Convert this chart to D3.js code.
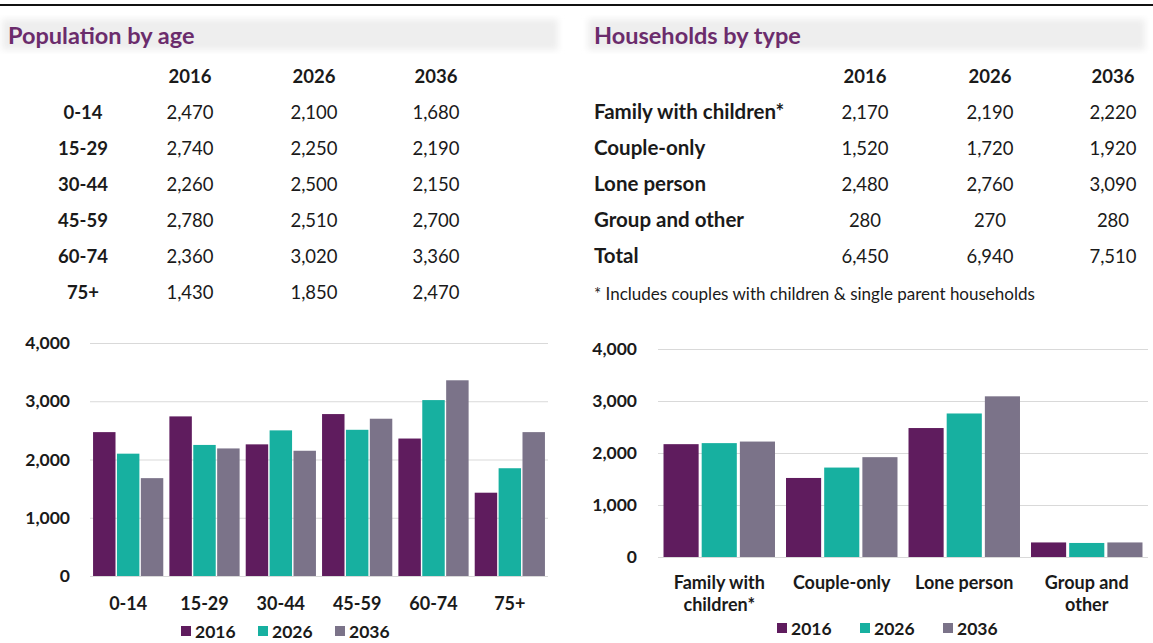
<!DOCTYPE html>
<html>
<head>
<meta charset="utf-8">
<script src="https://cdn.jsdelivr.net/npm/d3@7"></script>
<style>
  body { margin: 0; background: #fff; }
  svg { display: block; font-family: Lato, "Open Sans", sans-serif; }
</style>
</head>
<body>
<div id="chart"></div>
<script>
// Population by age, and households by type: 2016 / 2026 / 2036
const years = ["2016", "2026", "2036"];
const ageGroups = ["0-14", "15-29", "30-44", "45-59", "60-74", "75+"];
const pop2016 = [2470, 2740, 2260, 2780, 2360, 1430];
const pop2026 = [2100, 2250, 2500, 2510, 3020, 1850];
const pop2036 = [1680, 2190, 2150, 2700, 3360, 2470];

const hhTypes = ["Family with children*", "Couple-only", "Lone person", "Group and other"];
const hhAxisLabels = [["Family with", "children*"], ["Couple-only"], ["Lone person"], ["Group and", "other"]];
const hh2016 = [2170, 1520, 2480, 280];
const hh2026 = [2190, 1720, 2760, 270];
const hh2036 = [2220, 1920, 3090, 280];
const hhTotals = [6450, 6940, 7510];

const yTicks = [0, 1000, 2000, 3000, 4000];
const colors = ["#5f1c5e", "#17b0a0", "#7b7389"];

const w = 1153;
const h = 643;
const fmt = d3.format(",");
const ink = "#1a1a1a";
const font = "Lato, 'Open Sans', sans-serif";

const svg = d3.select("#chart").append("svg").attr("width", w).attr("height", h);

// top rule
svg.append("line").attr("x1", 0).attr("x2", w).attr("y1", 5).attr("y2", 5)
  .attr("stroke", "#111").attr("stroke-width", 2);

// soft grey bands behind titles
const defs = svg.append("defs");
defs.append("filter").attr("id", "blur").append("feGaussianBlur").attr("stdDeviation", 3);
[[2, 558], [588, 1145]].forEach(([x0, x1]) => {
  svg.append("rect").attr("x", x0).attr("y", 19).attr("width", x1 - x0).attr("height", 31)
    .attr("fill", "#eeeeee").attr("filter", "url(#blur)");
});

svg.append("text").attr("x", 8).attr("y", 44).text("Population by age")
  .attr("fill", "#6b2c6c").attr("font-size", 23.5).attr("font-weight", 700);
svg.append("text").attr("x", 594).attr("y", 44).text("Households by type")
  .attr("fill", "#6b2c6c").attr("font-size", 23.5).attr("font-weight", 700);

// ---- Left table
const popRows = ageGroups.map((a, i) => [a, pop2016[i], pop2026[i], pop2036[i]]);
const leftCols = [83, 190, 314, 436];
const rowY = (i) => 119 + i * 36;

years.forEach((y, j) => {
  svg.append("text").attr("x", leftCols[j + 1]).attr("y", 83).attr("text-anchor", "middle")
    .attr("font-size", 18.5).attr("font-weight", 700).attr("fill", ink).text(y);
});
popRows.forEach((r, i) => {
  r.forEach((v, j) => {
    svg.append("text").attr("x", leftCols[j]).attr("y", rowY(i)).attr("text-anchor", "middle")
      .attr("font-size", 18.5).attr("font-weight", j === 0 ? 700 : 400).attr("fill", ink)
      .text(j === 0 ? v : fmt(v));
  });
});

// ---- Right table
const rightCols = [594, 865, 990, 1113];
years.forEach((y, j) => {
  svg.append("text").attr("x", rightCols[j + 1]).attr("y", 83).attr("text-anchor", "middle")
    .attr("font-size", 18.5).attr("font-weight", 700).attr("fill", ink).text(y);
});
const hhRows = hhTypes.map((t, i) => [t, hh2016[i], hh2026[i], hh2036[i]]);
hhRows.push(["Total"].concat(hhTotals));
hhRows.forEach((r, i) => {
  r.forEach((v, j) => {
    svg.append("text").attr("x", rightCols[j]).attr("y", rowY(i))
      .attr("text-anchor", j === 0 ? "start" : "middle")
      .attr("font-size", j === 0 ? 20.5 : 18.5).attr("font-weight", j === 0 ? 700 : 400).attr("fill", ink)
      .text(j === 0 ? v : fmt(v));
  });
});
svg.append("text").attr("x", 594).attr("y", 300).attr("font-size", 17).attr("fill", ink)
  .text("* Includes couples with children & single parent households");

// ---- grouped bar chart helper
function barChart(cats, series, opt) {
  const g = svg.append("g");
  const y = d3.scaleLinear().domain([0, 4000]).range([opt.y0, opt.y1]);
  const x0 = d3.scaleBand().domain(cats).range([opt.xL, opt.xR]).paddingInner(opt.pad).paddingOuter(opt.pad / 2);
  const x1 = d3.scaleBand().domain(years).range([0, x0.bandwidth()]).paddingInner(opt.inner);

  const yAxis = d3.axisLeft(y).tickValues(yTicks).tickSize(-(opt.xR - opt.xL)).tickFormat(fmt).tickPadding(opt.labPad);
  const ag = g.append("g").attr("transform", `translate(${opt.xL},0)`).call(yAxis);
  ag.select(".domain").remove();
  ag.selectAll(".tick line").attr("stroke", "#d9d9d9");
  ag.selectAll(".tick text").attr("font-size", 17.5).attr("font-weight", 700).attr("fill", ink)
    .attr("font-family", font);

  cats.forEach((c, i) => {
    g.selectAll(null).data(series.map((s, k) => ({ k, v: s[i] }))).enter().append("rect")
      .attr("x", (d) => x0(c) + x1(years[d.k]))
      .attr("y", (d) => y(d.v))
      .attr("width", x1.bandwidth())
      .attr("height", (d) => y(0) - y(d.v))
      .attr("fill", (d) => colors[d.k]);
  });

  opt.labels.forEach((lines, i) => {
    const t = g.append("text").attr("x", x0(cats[i]) + x0.bandwidth() / 2).attr("y", opt.labY)
      .attr("text-anchor", "middle").attr("font-size", 18).attr("font-weight", 700).attr("fill", ink);
    lines.forEach((ln, k) => t.append("tspan").attr("x", x0(cats[i]) + x0.bandwidth() / 2)
      .attr("dy", k === 0 ? 0 : 22).text(ln));
  });

  // legend
  years.forEach((yr, k) => {
    const lx = opt.legX + k * opt.legStep;
    g.append("rect").attr("x", lx).attr("y", opt.legY - 12).attr("width", 10).attr("height", 10).attr("fill", colors[k]);
    g.append("text").attr("x", lx + 14).attr("y", opt.legY).attr("font-size", 17.5).attr("font-weight", 700)
      .attr("fill", ink).text(yr);
  });
}

barChart(ageGroups, [pop2016, pop2026, pop2036], {
  xL: 90, xR: 548, y0: 576, y1: 343, pad: 0.08, inner: 0.06, labPad: 20,
  labels: ageGroups.map((a) => [a]), labY: 610, legX: 181, legStep: 77, legY: 638
});

barChart(hhTypes, [hh2016, hh2026, hh2036], {
  xL: 658, xR: 1148, y0: 557, y1: 349, pad: 0.09, inner: 0.08, labPad: 21,
  labels: hhAxisLabels, labY: 589, legX: 777, legStep: 83, legY: 635
});
</script>
</body>
</html>
